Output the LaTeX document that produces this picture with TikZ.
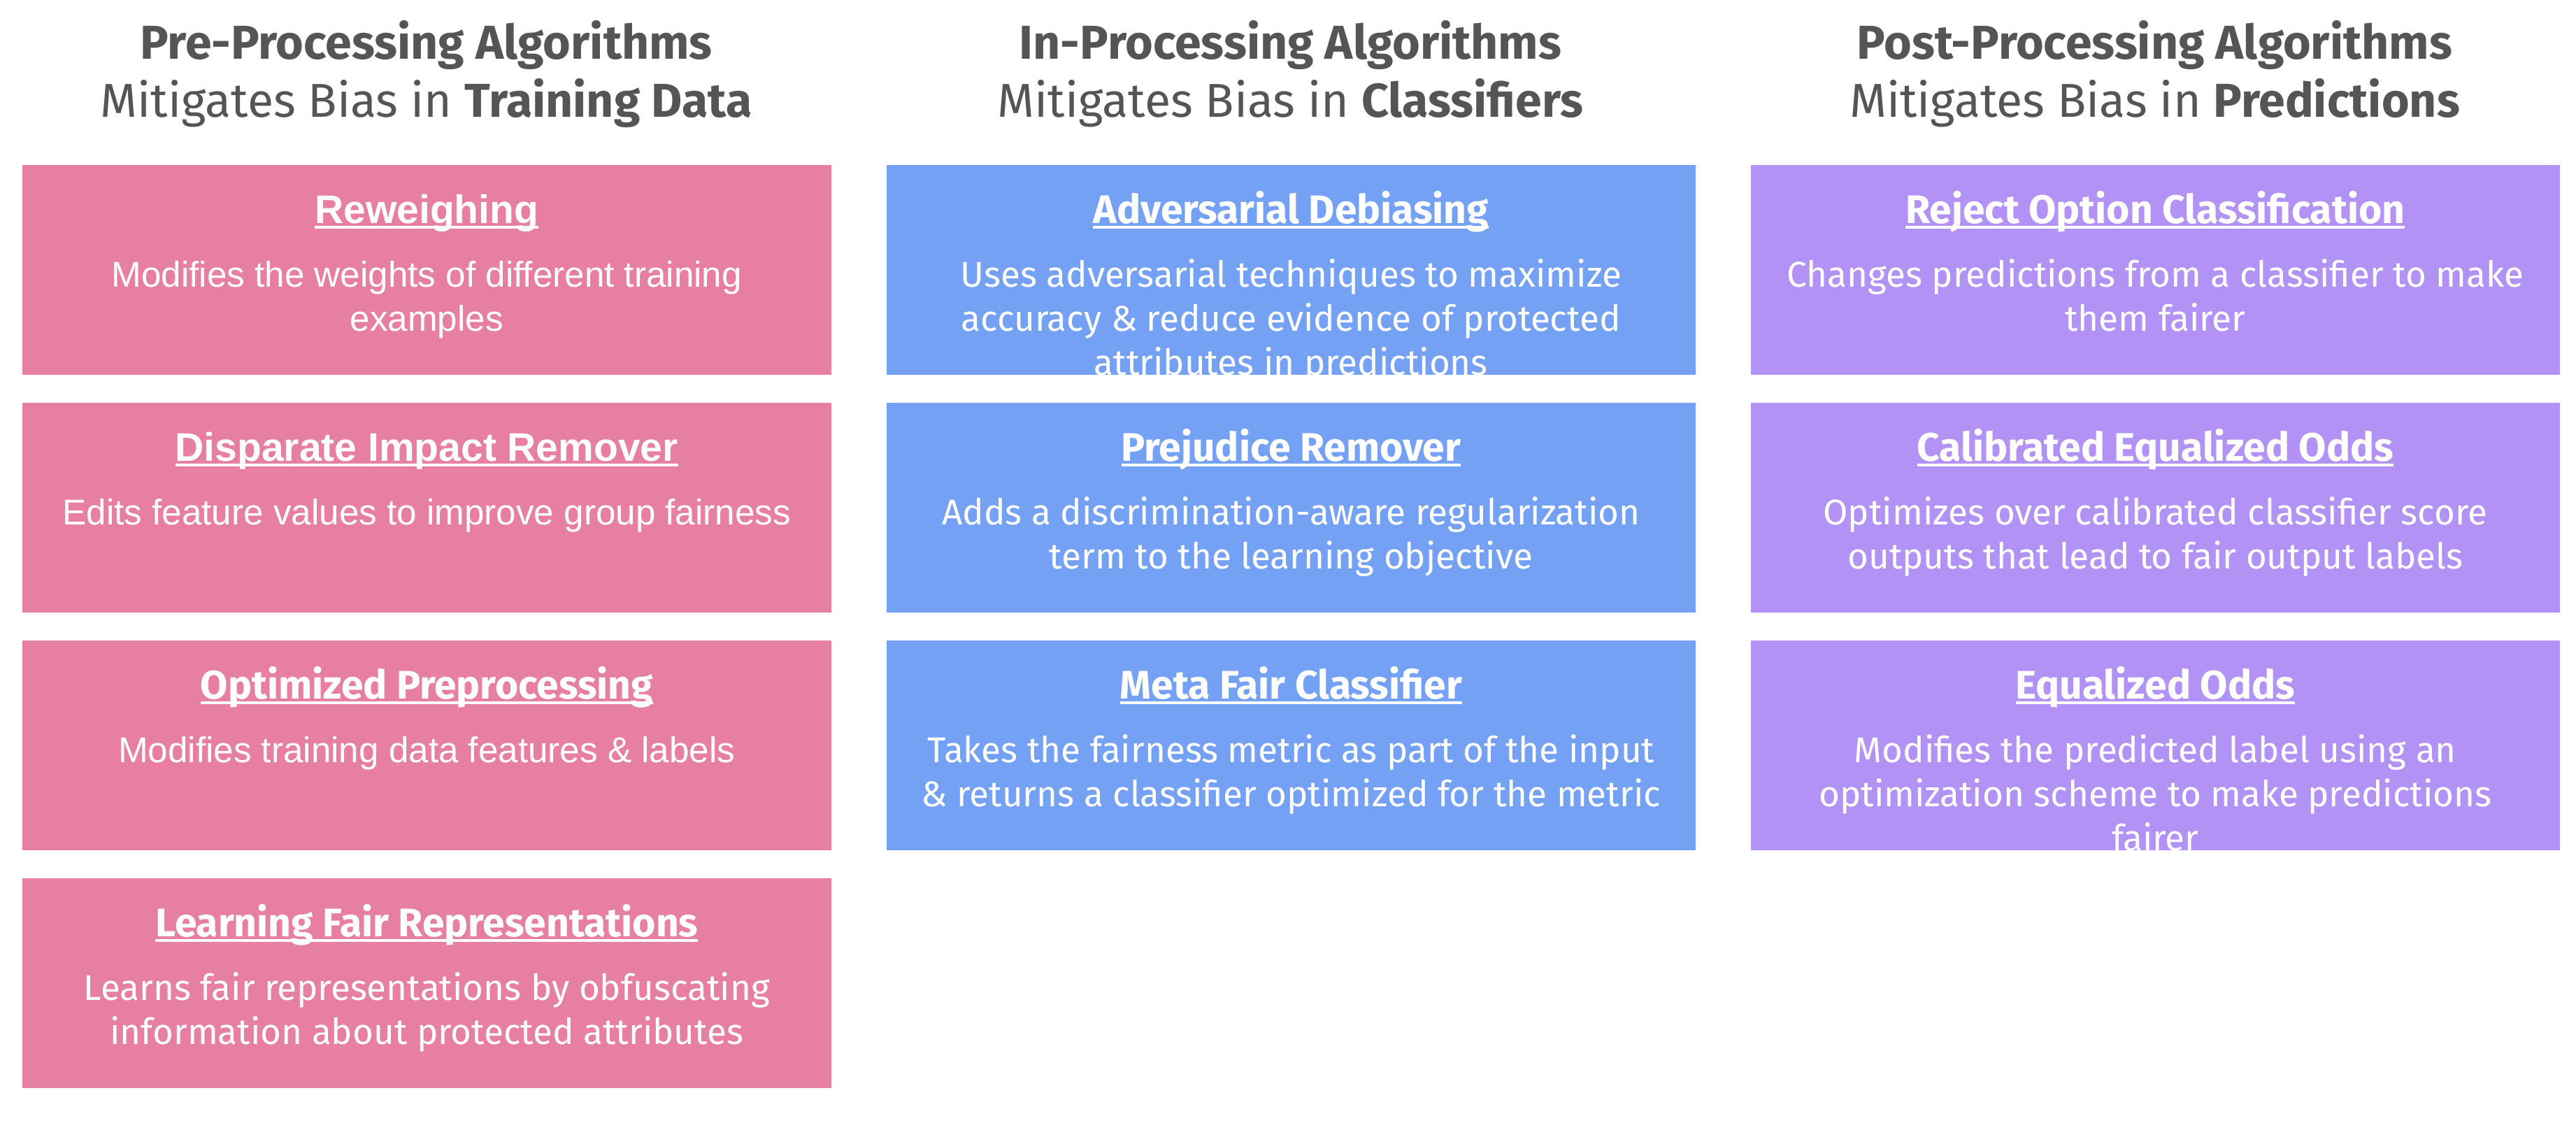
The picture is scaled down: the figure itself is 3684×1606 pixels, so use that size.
\documentclass[tikz,border=0pt]{standalone}
\usepackage{fontspec}
\setmainfont{Fira Sans}
\newfontfamily\plexf{Fira Sans}
\newfontfamily\arialf{Liberation Sans}
\usetikzlibrary{calc}
\definecolor{pinkbox}{HTML}{E77FA3}
\definecolor{bluebox}{HTML}{75A1F5}
\definecolor{purplebox}{HTML}{B392F5}
\definecolor{headgray}{HTML}{555555}
\newsavebox\ulinebox
\newcommand\myul[1]{\sbox\ulinebox{#1}\rlap{\rule[-1.9pt]{\wd\ulinebox}{0.85pt}}\usebox\ulinebox}
\tikzset{
  algbox/.style={rectangle, minimum width=289.25pt, minimum height=75pt, inner sep=0pt, anchor=north west, draw=none},
  headA/.style={anchor=base, inner sep=0pt, text=headgray, font=\plexf\bfseries\fontsize{17}{20}\selectfont},
  headB/.style={anchor=base, inner sep=0pt, text=headgray, font=\plexf\fontsize{17}{20}\selectfont},
  ttlP/.style={anchor=base, inner sep=0pt, text=white, font=\plexf\bfseries\fontsize{14.25}{17}\selectfont},
  ttlA/.style={anchor=base, inner sep=0pt, text=white, font=\arialf\bfseries\fontsize{14.25}{17}\selectfont},
  bodyP/.style={anchor=base, inner sep=0pt, align=center, text=white, font=\plexf\fontsize{12.8}{15.75}\selectfont},
  bodyA/.style={anchor=base, inner sep=0pt, align=center, text=white, font=\arialf\fontsize{12.8}{15.75}\selectfont},
}
\begin{document}
\begin{tikzpicture}[x=0.25pt, y=-0.25pt]
\path[use as bounding box, fill=white] (0,0) rectangle (3684,1606);

% headers
\node[headA] (h1a) at (609.5,84) {Pre-Processing Algorithms};
\node[headB] (h1b) at (609.5,167) {Mitigates Bias in \textbf{Training Data}};
\node[headA] (h2a) at (1845.5,84) {In-Processing Algorithms};
\node[headB] (h2b) at (1845.5,167) {Mitigates Bias in \textbf{Classifiers}};
\node[headA] (h3a) at (3081.5,84) {Post-Processing Algorithms};
\node[headB] (h3b) at (3081.5,167) {Mitigates Bias in \textbf{Predictions}};

% column 1
\node[algbox, fill=pinkbox] (p1) at (31,235) {};
\node[algbox, fill=pinkbox] (p2) at (31,575) {};
\node[algbox, fill=pinkbox] (p3) at (31,915) {};
\node[algbox, fill=pinkbox] (p4) at (31,1255) {};
% column 2
\node[algbox, fill=bluebox] (b1) at (1267,235) {};
\node[algbox, fill=bluebox] (b2) at (1267,575) {};
\node[algbox, fill=bluebox] (b3) at (1267,915) {};
% column 3
\node[algbox, fill=purplebox] (v1) at (2503,235) {};
\node[algbox, fill=purplebox] (v2) at (2503,575) {};
\node[algbox, fill=purplebox] (v3) at (2503,915) {};

% texts column 1 (base anchor = baseline of last line)
\node[ttlA] (p1t) at ($(p1.north)+(0,84)$) {\myul{Reweighing}};
\node[bodyA] (p1d) at ($(p1.north)+(0,238)$) {Modifies the weights of different training\\examples};
\node[ttlA] (p2t) at ($(p2.north)+(0,84)$) {\myul{Disparate Impact Remover}};
\node[bodyA] (p2d) at ($(p2.north)+(0,175)$) {Edits feature values to improve group fairness};
\node[ttlP] (p3t) at ($(p3.north)+(0,84)$) {\myul{Optimized Preprocessing}};
\node[bodyA] (p3d) at ($(p3.north)+(0,175)$) {Modifies training data features \& labels};
\node[ttlP] (p4t) at ($(p4.north)+(0,84)$) {\myul{Learning Fair Representations}};
\node[bodyP] (p4d) at ($(p4.north)+(0,238)$) {Learns fair representations by obfuscating\\information about protected attributes};

% texts column 2
\node[ttlP] (b1t) at ($(b1.north)+(0,84)$) {\myul{Adversarial Debiasing}};
\node[bodyP] (b1d) at ($(b1.north)+(0,301)$) {Uses adversarial techniques to maximize\\accuracy \& reduce evidence of protected\\attributes in predictions};
\node[ttlP] (b2t) at ($(b2.north)+(0,84)$) {\myul{Prejudice Remover}};
\node[bodyP] (b2d) at ($(b2.north)+(0,238)$) {Adds a discrimination-aware regularization\\term to the learning objective};
\node[ttlP] (b3t) at ($(b3.north)+(0,84)$) {\myul{Meta Fair Classifier}};
\node[bodyP] (b3d) at ($(b3.north)+(0,238)$) {Takes the fairness metric as part of the input\\\& returns a classifier optimized for the metric};

% texts column 3
\node[ttlP] (v1t) at ($(v1.north)+(0,84)$) {\myul{Reject Option Classification}};
\node[bodyP] (v1d) at ($(v1.north)+(0,238)$) {Changes predictions from a classifier to make\\them fairer};
\node[ttlP] (v2t) at ($(v2.north)+(0,84)$) {\myul{Calibrated Equalized Odds}};
\node[bodyP] (v2d) at ($(v2.north)+(0,238)$) {Optimizes over calibrated classifier score\\outputs that lead to fair output labels};
\node[ttlP] (v3t) at ($(v3.north)+(0,84)$) {\myul{Equalized Odds}};
\node[bodyP] (v3d) at ($(v3.north)+(0,301)$) {Modifies the predicted label using an\\optimization scheme to make predictions\\fairer};
\end{tikzpicture}
\end{document}
